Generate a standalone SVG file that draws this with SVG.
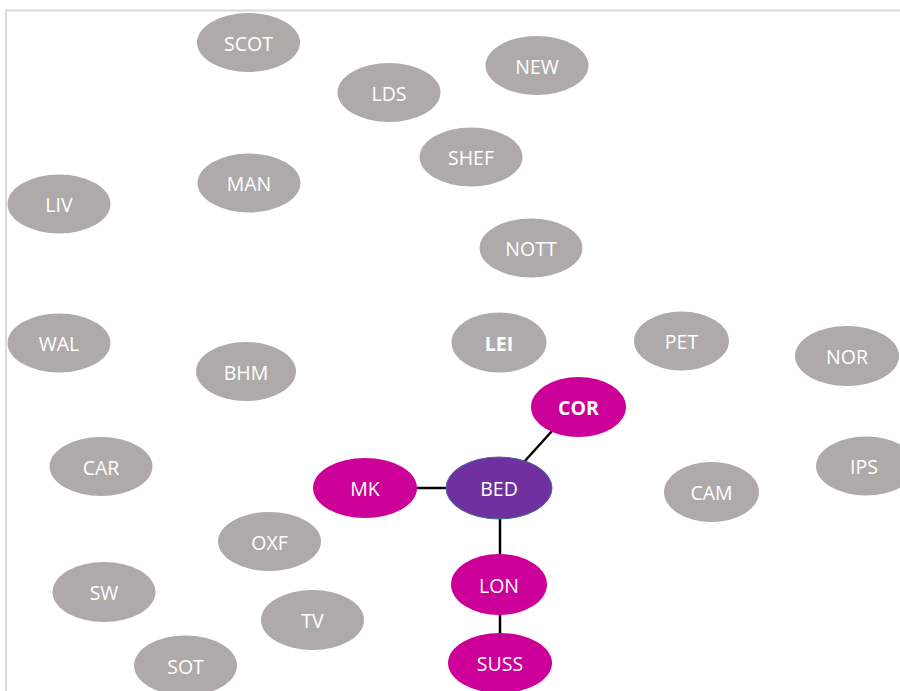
<svg xmlns="http://www.w3.org/2000/svg" width="900" height="691" viewBox="0 0 900 691">
<style>
.g{fill:#AEAAAA}
.m{fill:#CC0099}
.b{fill:#7030A0;stroke:#41719C;stroke-width:1}
text{font-family:"Open Sans","Liberation Sans",Arial,sans-serif;font-size:19.5px;fill:#FFFFFF;text-anchor:middle;dominant-baseline:central}
.bold{font-weight:bold}
.e{stroke:#000000;stroke-width:2.5;fill:none}
</style>
<rect x="0" y="0" width="900" height="691" fill="#FFFFFF"/>
<path d="M6 691 V10.5 H900" fill="none" stroke="#D9D9D9" stroke-width="2"/>
<g id="connectors">
<line class="e" x1="417" y1="488" x2="446" y2="488"/>
<line class="e" x1="524" y1="462" x2="552" y2="431"/>
<line class="e" x1="500" y1="519" x2="500" y2="554"/>
<line class="e" x1="500" y1="615" x2="500" y2="633"/>
</g>
<g id="SCOT"><ellipse class="g" cx="248.5" cy="42.5" rx="51.5" ry="29.5"/><text x="248.5" y="43">SCOT</text></g>
<g id="NEW"><ellipse class="g" cx="537" cy="65.5" rx="51.5" ry="29.5"/><text x="537" y="66">NEW</text></g>
<g id="LDS"><ellipse class="g" cx="389" cy="92.5" rx="51.5" ry="29.5"/><text x="389" y="93">LDS</text></g>
<g id="SHEF"><ellipse class="g" cx="471" cy="157" rx="51.5" ry="29.5"/><text x="471" y="157.5">SHEF</text></g>
<g id="MAN"><ellipse class="g" cx="249" cy="183" rx="51.5" ry="29.5"/><text x="249" y="183.5">MAN</text></g>
<g id="LIV"><ellipse class="g" cx="59" cy="204" rx="51.5" ry="29.5"/><text x="59" y="204.5">LIV</text></g>
<g id="NOTT"><ellipse class="g" cx="531" cy="248" rx="51.5" ry="29.5"/><text x="531" y="248.5">NOTT</text></g>
<g id="WAL"><ellipse class="g" cx="59" cy="343" rx="51.5" ry="29.5"/><text x="59" y="343.5">WAL</text></g>
<g id="LEI"><ellipse class="g" cx="499" cy="342.5" rx="47.5" ry="30"/><text class="bold" x="499" y="343">LEI</text></g>
<g id="PET"><ellipse class="g" cx="681.5" cy="341" rx="47.5" ry="29.5"/><text x="681.5" y="341.5">PET</text></g>
<g id="NOR"><ellipse class="g" cx="847" cy="356" rx="52" ry="30"/><text x="847" y="356.5">NOR</text></g>
<g id="BHM"><ellipse class="g" cx="246" cy="371.5" rx="50" ry="29.5"/><text x="246" y="372">BHM</text></g>
<g id="COR"><ellipse class="m" cx="578.5" cy="407" rx="47.5" ry="30"/><text class="bold" x="578.5" y="407.5">COR</text></g>
<g id="CAR"><ellipse class="g" cx="101" cy="466.5" rx="51.5" ry="29.5"/><text x="101" y="467">CAR</text></g>
<g id="IPS"><ellipse class="g" cx="866" cy="466" rx="50" ry="29.5"/><text x="864" y="466.5">IPS</text></g>
<g id="MK"><ellipse class="m" cx="365" cy="488" rx="52" ry="30"/><text x="365" y="488.5">MK</text></g>
<g id="BED"><ellipse class="b" cx="499" cy="488" rx="53" ry="31"/><text x="499" y="488.5">BED</text></g>
<g id="CAM"><ellipse class="g" cx="711.5" cy="492" rx="47.5" ry="30"/><text x="711.5" y="492.5">CAM</text></g>
<g id="OXF"><ellipse class="g" cx="269.5" cy="541.5" rx="51.5" ry="29.5"/><text x="269.5" y="542">OXF</text></g>
<g id="LON"><ellipse class="m" cx="499" cy="584.5" rx="48" ry="30.5"/><text x="499" y="585">LON</text></g>
<g id="SW"><ellipse class="g" cx="104" cy="592" rx="51.5" ry="30"/><text x="104" y="592.5">SW</text></g>
<g id="TV"><ellipse class="g" cx="312.5" cy="620" rx="51.5" ry="30"/><text x="312.5" y="620.5">TV</text></g>
<g id="SUSS"><ellipse class="m" cx="500" cy="663" rx="52" ry="30"/><text x="500" y="663.5">SUSS</text></g>
<g id="SOT"><ellipse class="g" cx="185.5" cy="665.5" rx="51.5" ry="30"/><text x="185.5" y="666">SOT</text></g>
</svg>
